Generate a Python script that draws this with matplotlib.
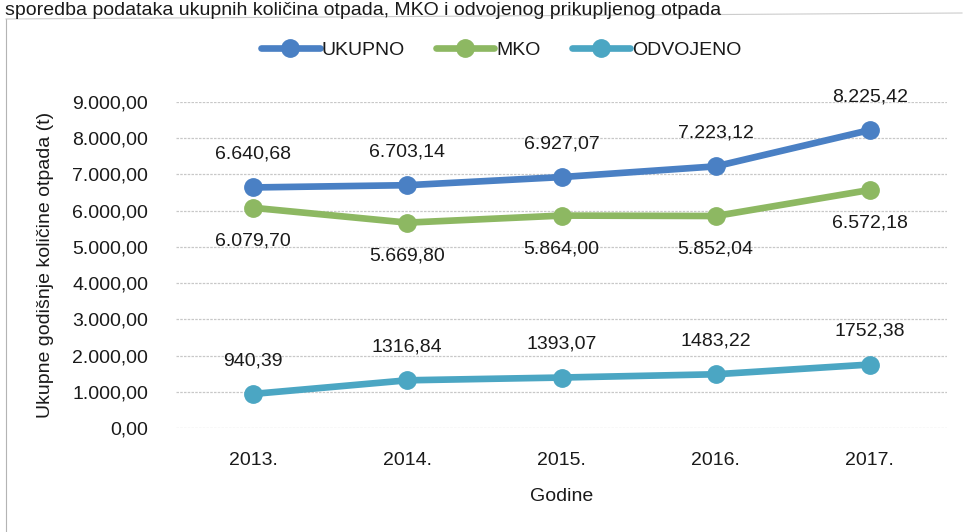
import matplotlib
matplotlib.use('Agg')
import matplotlib.pyplot as plt
from matplotlib.lines import Line2D
from matplotlib.font_manager import fontManager

# ── Data ───────────────────────────────────────────────────────────────────────
years = ['2013.', '2014.', '2015.', '2016.', '2017.']
ukupno = [6640.68, 6703.14, 6927.07, 7223.12, 8225.42]
mko = [6079.70, 5669.80, 5864.00, 5852.04, 6572.18]
odvojeno = [940.39, 1316.84, 1393.07, 1483.22, 1752.38]
ukupno_labels = ['6.640,68', '6.703,14', '6.927,07', '7.223,12', '8.225,42']
mko_labels = ['6.079,70', '5.669,80', '5.864,00', '5.852,04', '6.572,18']
odvojeno_labels = ['940,39', '1316,84', '1393,07', '1483,22', '1752,38']
y_ticks = [0, 1000, 2000, 3000, 4000, 5000, 6000, 7000, 8000, 9000]
y_tick_labels = ['0,00', '1.000,00', '2.000,00', '3.000,00', '4.000,00',
                 '5.000,00', '6.000,00', '7.000,00', '8.000,00', '9.000,00']

# Narrow sans if available
names = {f.name for f in fontManager.ttflist}
if 'Liberation Sans Narrow' in names:
    plt.rcParams['font.family'] = ['Liberation Sans Narrow', 'DejaVu Sans']
else:
    plt.rcParams['font.family'] = ['Liberation Sans', 'DejaVu Sans']

C_UK = '#4a80c4'
C_MKO = '#8db862'
C_ODV = '#4ba6c3'
TXT = '#1a1a1a'

fig = plt.figure(figsize=(9.64, 5.32), dpi=100)
W, H = 964, 532
ax = fig.add_axes([176 / W, 1 - 428 / H, (947 - 176) / W, (428 - 102) / H])

x = list(range(len(years)))
series = [
    ('UKUPNO', ukupno, ukupno_labels, C_UK, 'above'),
    ('MKO', mko, mko_labels, C_MKO, 'below'),
    ('ODVOJENO', odvojeno, odvojeno_labels, C_ODV, 'above'),
]
for name, vals, labels, color, pos in series:
    ax.plot(x, vals, color=color, linewidth=4.8, marker='o', markersize=12.5,
            label=name, solid_capstyle='round', zorder=3)
    for xi, v, lab in zip(x, vals, labels):
        off = 24 if pos == 'above' else -24
        ax.annotate(lab, (xi, v), xytext=(0, off), textcoords='offset points',
                    ha='center', va='center', fontsize=14, color=TXT)

ax.set_xlim(-0.5, len(years) - 0.5)
ax.set_ylim(0, 9000)
ax.set_yticks(y_ticks)
ax.set_yticklabels(y_tick_labels)
ax.set_xticks(x)
ax.set_xticklabels(years)
ax.tick_params(axis='both', length=0, labelsize=14, colors=TXT)
ax.tick_params(axis='y', pad=20)
ax.tick_params(axis='x', pad=17)
ax.grid(axis='y', color='#c8c8c8', linewidth=0.9, linestyle=(0, (2, 1)))
ax.set_axisbelow(True)
for s in ax.spines.values():
    s.set_visible(False)

ax.set_xlabel('Godine', fontsize=14, color=TXT, labelpad=14)
ax.set_ylabel('Ukupne godišnje količine otpada (t)', fontsize=14, color=TXT, labelpad=13)

leg = fig.legend(loc='center', bbox_to_anchor=(0.52, 1 - 50 / H), ncol=3, frameon=False,
                 fontsize=14, handlelength=3, handletextpad=0.1, columnspacing=1.6)
for t in leg.get_texts():
    t.set_color(TXT)

# chart frame (top and left edges) and the caption line above it
fig.add_artist(Line2D([6 / W, 6 / W], [0, 1 - 19 / H], transform=fig.transFigure,
                      color='#b4b4b4', linewidth=0.8))
fig.add_artist(Line2D([6 / W, 962 / W], [1 - 19 / H, 1 - 13 / H], transform=fig.transFigure,
                      color='#cccccc', linewidth=0.8))
fig.text(5 / W, 1 - 15 / H, 'sporedba podataka ukupnih količina otpada, MKO i odvojenog prikupljenog otpada',
         fontsize=14, color=TXT, ha='left', va='baseline')

fig.savefig('out.png', dpi=100)
